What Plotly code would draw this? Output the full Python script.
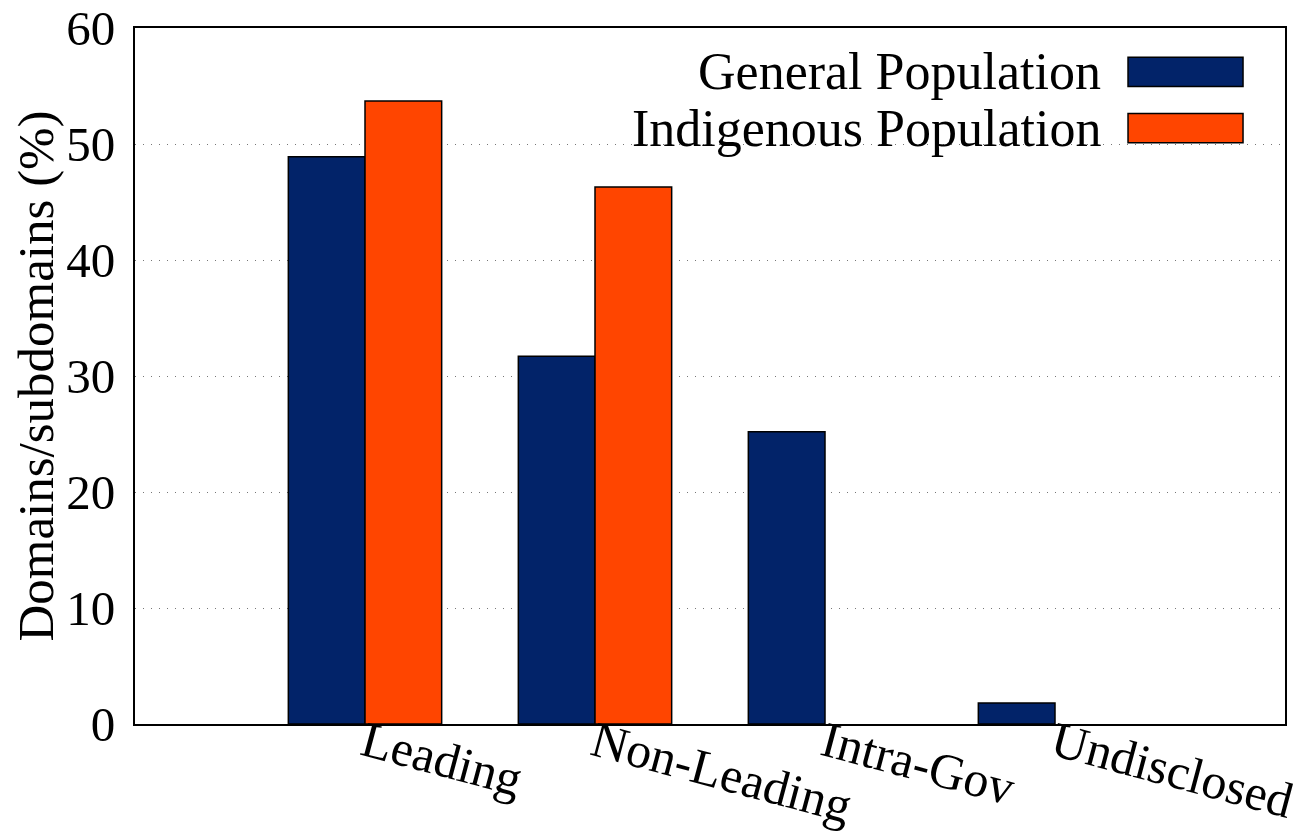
import plotly.graph_objects as go

categories = ["Leading", "Non-Leading", "Intra-Gov", "Undisclosed"]
general = [48.9, 31.7, 25.2, 1.8]
indigenous = [53.7, 46.3, 0, 0]
series_names = ["General Population", "Indigenous Population"]
colors = ["#022369", "#FF4500"]
y_ticks = [0, 10, 20, 30, 40, 50, 60]

FONT = "Liberation Serif"

fig = go.Figure()
for name, vals, col in zip(series_names, [general, indigenous], colors):
    fig.add_trace(go.Bar(
        x=categories, y=vals, name=name,
        marker=dict(color=col,
                    line=dict(color="black", width=[1.5 if v > 0 else 0 for v in vals])),
        showlegend=False,
    ))

# gnuplot-style legend (text right-aligned, sample box on the right)
legend_y = [0.9368, 0.8563]
for name, col, yy in zip(series_names, colors, legend_y):
    fig.add_annotation(xref="paper", yref="paper", x=0.8415, y=yy,
                       text=name, showarrow=False, xanchor="right", yanchor="middle",
                       font=dict(family=FONT, size=52, color="black"))
    fig.add_shape(type="rect", xref="paper", yref="paper",
                  x0=0.8635, x1=0.9635, y0=yy - 0.021, y1=yy + 0.021,
                  fillcolor=col, line=dict(color="black", width=1.5))
# opaque legend background hiding grid line
fig.add_shape(type="rect", xref="paper", yref="paper", layer="below",
              x0=0.365, x1=0.989, y0=0.822, y1=0.99,
              fillcolor="white", line=dict(width=0))

# page body has an 8px margin: compensate
fig.update_layout(
    width=1306, height=831,
    margin=dict(l=127, r=29, t=20, b=115),
    plot_bgcolor="white", paper_bgcolor="white",
    barmode="group", bargap=1/3, bargroupgap=0,
    font=dict(family=FONT, size=51, color="black"),
)
fig.update_xaxes(
    range=[-1, 4], tickangle=15, showgrid=False, automargin=False,
    showline=True, linecolor="black", linewidth=2, mirror=True,
    ticks="", ticklabelstandoff=-31, ticklabeloverflow="allow",
    tickfont=dict(family=FONT, size=50),
)
fig.update_yaxes(
    range=[0, 60], tickvals=y_ticks, showgrid=True, automargin=False,
    gridcolor="#777777", gridwidth=1, griddash="1px,7px",
    showline=True, linecolor="black", linewidth=2, mirror=True,
    ticks="", ticklabelstandoff=8, zeroline=False, ticklabeloverflow="allow",
    tickfont=dict(family=FONT, size=49),
    title=dict(text="Domains/subdomains (%)", standoff=2,
               font=dict(family=FONT, size=51)),
)

fig.write_html("out.html")
